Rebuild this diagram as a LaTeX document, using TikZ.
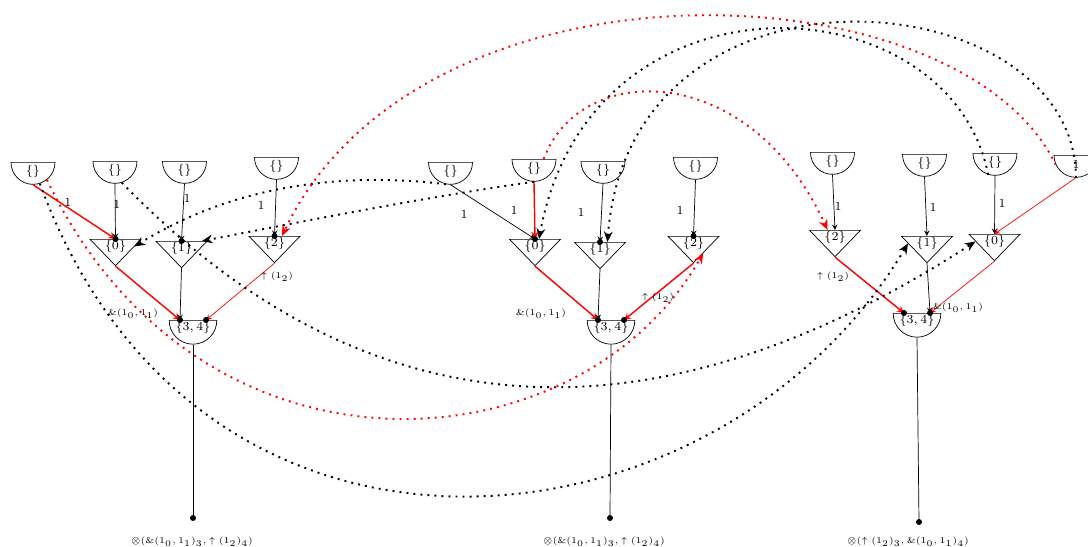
\documentclass[tikz,border=0pt]{standalone}
\usepackage{amsmath}
\usepackage{amssymb}
\usetikzlibrary{calc}
\usetikzlibrary{shapes.geometric}
\usetikzlibrary{arrows.meta}
\tikzset{
	semistyle/.style={semicircle,draw=black,shape border rotate=180,inner sep=0.7pt,minimum width=0.88cm,anchor=chord center},
	tristyle/.style={isosceles triangle,draw=black,shape border rotate=270,isosceles triangle apex angle=88,inner sep=0.55pt,anchor=north},
	redthick/.style={draw=red,line width=0.8pt},
	redthin/.style={draw=red},
	jumpstyle/.style={line width=1.1pt,dash pattern=on 1.1pt off 2.9pt,-{Stealth[length=6pt,width=5pt]}},
	lblstyle/.style={inner sep=0pt},
	termstyle/.style={inner sep=0pt,font=\tiny}
}
\begin{document}
\begin{tikzpicture}
	\scriptsize
	\useasboundingbox (0,0) rectangle (21.76,-10.94);
	% left block
	\node[semistyle] (la) at (0.66,-3.24) {$\{\}$};
	\node[semistyle] (lb) at (2.30,-3.22) {$\{\}$};
	\node[semistyle] (lc) at (3.69,-3.22) {$\{\}$};
	\node[semistyle] (ld) at (5.53,-3.14) {$\{\}$};
	\node[tristyle] (l0) at (2.31,-4.78) {$\{0\}$};
	\node[tristyle] (l1) at (3.63,-4.82) {$\{1\}$};
	\node[tristyle] (l2) at (5.49,-4.72) {$\{2\}$};
	\node[semistyle] (l34) at (3.86,-6.40) {$\{3,4\}$};
	\coordinate (l34a) at ([xshift=-0.26cm]l34.chord center);
	\coordinate (l34b) at ([xshift=0.26cm]l34.chord center);
	\coordinate (lout) at (3.86,-10.36);
	\node[termstyle] (lres) at (3.84,-10.84) {$\otimes(\&(1_0,1_1)_3,\uparrow(1_2)_4)$};
	\draw[redthick,-stealth] (la.apex)--(l0.north);
	\draw[-stealth] (lb.apex)--(l0.north);
	\draw[-stealth] (lc.apex)--(l1.north);
	\draw[-stealth] (ld.apex)--(l2.north);
	\draw[redthick,-stealth] (l0.apex)--(l34a);
	\draw[-stealth] (l1.apex)--(l34a);
	\draw[redthin,-stealth] (l2.apex)--(l34b);
	\draw (l34.apex)--(lout);
	\node[lblstyle] (lla) at (1.36,-4.06) {$1$};
	\node[lblstyle] (llb) at (2.34,-4.10) {$1$};
	\node[lblstyle] (llc) at (3.74,-3.98) {$1$};
	\node[lblstyle] (lld) at (5.22,-4.12) {$1$};
	\node[termstyle] (lamp) at (2.66,-6.28) {$\&(1_0,1_1)$};
	\node[termstyle] (lup) at (5.54,-5.54) {$\uparrow(1_2)$};
	% middle block
	\node[semistyle] (ma) at (9.01,-3.24) {$\{\}$};
	\node[semistyle] (mb) at (10.68,-3.18) {$\{\}$};
	\node[semistyle] (mc) at (12.06,-3.22) {$\{\}$};
	\node[semistyle] (md) at (13.91,-3.14) {$\{\}$};
	\node[tristyle] (m0) at (10.70,-4.78) {$\{0\}$};
	\node[tristyle] (m1) at (12.00,-4.84) {$\{1\}$};
	\node[tristyle] (m2) at (13.87,-4.72) {$\{2\}$};
	\node[semistyle] (m34) at (12.22,-6.40) {$\{3,4\}$};
	\coordinate (m34a) at ([xshift=-0.26cm]m34.chord center);
	\coordinate (m34b) at ([xshift=0.26cm]m34.chord center);
	\coordinate (mout) at (12.20,-10.36);
	\node[termstyle] (mres) at (12.08,-10.84) {$\otimes(\&(1_0,1_1)_3,\uparrow(1_2)_4)$};
	\draw[-stealth] (ma.apex)--(m0.north);
	\draw[redthick,-stealth] (mb.apex)--(m0.north);
	\draw[-stealth] (mc.apex)--(m1.north);
	\draw[-stealth] (md.apex)--(m2.north);
	\draw[redthick,-stealth] (m0.apex)--(m34a);
	\draw[-stealth] (m1.apex)--(m34a);
	\draw[redthick,-stealth] (m2.apex)--(m34b);
	\draw (m34.apex)--(mout);
	\node[lblstyle] (mla) at (9.28,-4.30) {$1$};
	\node[lblstyle] (mlb) at (10.28,-4.22) {$1$};
	\node[lblstyle] (mlc) at (11.62,-4.26) {$1$};
	\node[lblstyle] (mld) at (13.60,-4.22) {$1$};
	\node[termstyle] (mamp) at (10.82,-6.28) {$\&(1_0,1_1)$};
	\node[termstyle] (mup) at (13.16,-5.96) {$\uparrow(1_2)$};
	% right block
	\node[semistyle] (ra) at (16.65,-3.04) {$\{\}$};
	\node[semistyle] (rb) at (18.49,-3.08) {$\{\}$};
	\node[semistyle] (rc) at (19.90,-3.06) {$\{\}$};
	\node[semistyle] (rd) at (21.52,-3.10) {$1$};
	\node[tristyle] (r2) at (16.70,-4.60) {$\{2\}$};
	\node[tristyle] (r1) at (18.54,-4.72) {$\{1\}$};
	\node[tristyle] (r0) at (19.89,-4.68) {$\{0\}$};
	\node[semistyle] (r34) at (18.34,-6.26) {$\{3,4\}$};
	\coordinate (r34a) at ([xshift=-0.26cm]r34.chord center);
	\coordinate (r34b) at ([xshift=0.26cm]r34.chord center);
	\coordinate (rout) at (18.38,-10.44);
	\node[termstyle] (rres) at (18.16,-10.84) {$\otimes(\uparrow(1_2)_3,\&(1_0,1_1)_4)$};
	\draw[-stealth] (ra.apex)--(r2.north);
	\draw[-stealth] (rb.apex)--(r1.north);
	\draw[-stealth] (rc.apex)--(r0.north);
	\draw[redthin,-stealth] (rd.apex)--(r0.north);
	\draw[redthick,-stealth] (r2.apex)--(r34a);
	\draw[-stealth] (r1.apex)--(r34b);
	\draw[redthin,-stealth] (r0.apex)--(r34b);
	\draw (r34.apex)--(rout);
	\node[lblstyle] (rla) at (16.76,-4.14) {$1$};
	\node[lblstyle] (rlb) at (18.66,-4.16) {$1$};
	\node[lblstyle] (rlc) at (20.04,-4.08) {$1$};
	\node[termstyle] (rup) at (16.66,-5.54) {$\uparrow(1_2)$};
	\node[termstyle] (ramp) at (19.16,-6.16) {$\&(1_0,1_1)$};
	% ports
	\foreach \p in {l0.north,l1.north,l2.north,l34a,l34b,lout,m0.north,m1.north,m2.north,m34a,m34b,mout,r34a,r34b,rout}
		\fill (\p) circle (0.06);
	% jumps between blocks
	\draw[jumpstyle] (la.-60) .. controls (4.00,-12.40) and (14.40,-11.20) .. (r1.west);
	\draw[jumpstyle] (lb.-60) .. controls (8.00,-9.40) and (14.00,-8.40) .. (r0.west);
	\draw[jumpstyle] (ma.-110) .. controls (7.40,-3.50) and (5.00,-3.50) .. (l0.east);
	\draw[jumpstyle] (mb.apex) .. controls (8.40,-3.96) and (6.00,-4.44) .. (l1.20);
	\draw[jumpstyle] (rc.-120) .. controls (19.00,0.40) and (11.80,0.80) .. ([xshift=0.08cm]m0.north);
	\draw[jumpstyle] (rd.apex) .. controls (21.50,0.40) and (12.60,1.20) .. (m1.north east);
	\draw[jumpstyle,red] (rd.west) .. controls (19.20,0.70) and (8.40,1.10) .. (l2.north east);
	\draw[jumpstyle,red] (mb.north east) .. controls (11.60,-1.20) and (15.00,-1.20) .. (r2.north west);
	\draw[jumpstyle,red] (la.-30) .. controls (4.00,-10.00) and (11.60,-9.40) .. (m2.south east);
\end{tikzpicture}
\end{document}
